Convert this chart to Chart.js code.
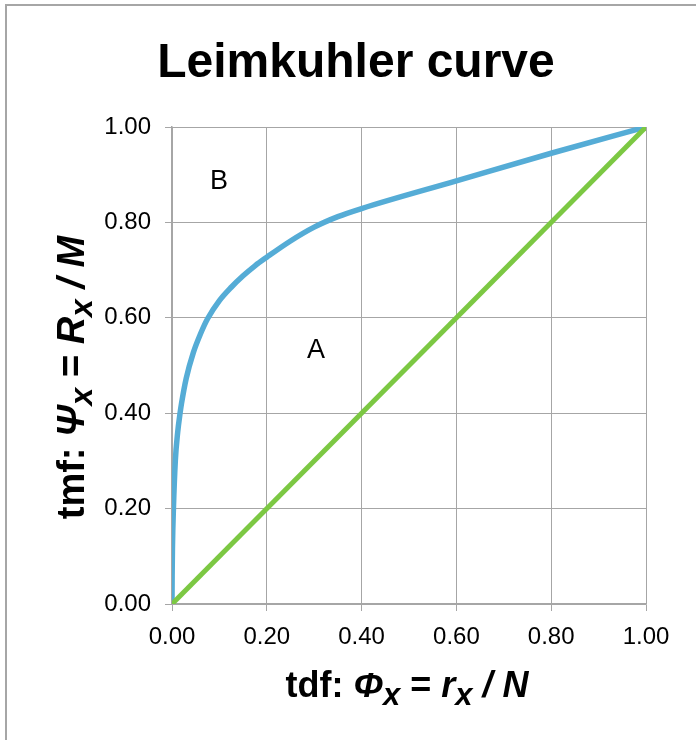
<!DOCTYPE html>
<html>
<head>
<meta charset="utf-8">
<script src="https://cdn.jsdelivr.net/npm/chart.js@4.4.1/dist/chart.umd.min.js"></script>
<style>
    html, body { margin: 0; padding: 0; background: #ffffff; overflow: hidden; }
    #wrap { position: relative; width: 696px; height: 740px; }
    #frame { position: absolute; left: 5px; top: 4px; width: 900px; height: 900px; border: 2px solid #a6a6a6; }
    #leimkuhler { position: absolute; left: 0; top: 0; }
</style>
</head>
<body>
<div id="wrap">
    <div id="frame"></div>
    <canvas id="leimkuhler" width="696" height="740"></canvas>
</div>
<script>
// Leimkuhler curve: tdf (x) against tmf (y)
const tdf = [0, 0.0003, 0.001, 0.003, 0.007, 0.012, 0.017, 0.02, 0.03, 0.045, 0.06, 0.075, 0.1, 0.125, 0.15, 0.175, 0.2, 0.25, 0.3, 0.35, 0.4, 0.6, 0.8, 1.0];
const tmf = [0, 0.06, 0.12, 0.2, 0.3, 0.36, 0.4, 0.42, 0.473, 0.527, 0.566, 0.598, 0.636, 0.664, 0.688, 0.709, 0.727, 0.761, 0.79, 0.812, 0.829, 0.887, 0.945, 1.0];

// diagonal of perfect equality
const diagX = [0, 1];
const diagY = [0, 1];

// axis ticks
const axisMin = 0;
const axisMax = 1;
const axisStep = 0.2;

// region labels inside the plot
const areaLabels = ['A', 'B'];
const areaLabelX = [0.304, 0.099];
const areaLabelY = [0.532, 0.885];

const colors = {
    curve: '#55acd6',
    diagonal: '#7cc843',
    grid: '#a6a6a6',
    text: '#000000'
};

const fontFamily = '"Liberation Sans", Arial, Helvetica, sans-serif';

const xTitleRuns = [
    { t: 'tdf: ', i: false },
    { t: 'Φ', i: true },
    { t: 'x', i: true, sub: true },
    { t: ' = ', i: false },
    { t: 'r', i: true },
    { t: 'x', i: true, sub: true },
    { t: ' / N', i: true }
];
const yTitleRuns = [
    { t: 'tmf: ', i: false },
    { t: 'Ψ', i: true },
    { t: 'x', i: true, sub: true },
    { t: ' = ', i: false },
    { t: 'R', i: true },
    { t: 'x', i: true, sub: true },
    { t: ' / M', i: true }
];

function runFont(run, size) {
    const s = run.sub ? Math.round(size * 0.85) : size;
    return (run.i ? 'italic ' : '') + 'bold ' + s + 'px ' + fontFamily;
}

// draws a mixed-style title centred on (cx, baseline)
function drawRuns(ctx, runs, size, cx, baseline) {
    let total = 0;
    runs.forEach(r => {
        ctx.font = runFont(r, size);
        r.w = ctx.measureText(r.t).width;
        total += r.w;
    });
    let x = cx - total / 2;
    ctx.textAlign = 'left';
    ctx.textBaseline = 'alphabetic';
    ctx.fillStyle = colors.text;
    runs.forEach(r => {
        ctx.font = runFont(r, size);
        ctx.fillText(r.t, x, baseline + (r.sub ? 8 : 0));
        x += r.w;
    });
}

const extras = {
    id: 'extras',
    afterDraw(chart) {
        const ctx = chart.ctx;
        const area = chart.chartArea;
        const xs = chart.scales.x;
        const ys = chart.scales.y;
        ctx.save();

        // region labels
        ctx.font = '27px ' + fontFamily;
        ctx.fillStyle = colors.text;
        ctx.textAlign = 'center';
        ctx.textBaseline = 'middle';
        areaLabels.forEach((lab, k) => {
            ctx.fillText(lab, xs.getPixelForValue(areaLabelX[k]), ys.getPixelForValue(areaLabelY[k]));
        });

        // x axis title
        drawRuns(ctx, xTitleRuns, 36, (area.left + area.right) / 2 - 2, 697);

        // y axis title (rotated)
        ctx.translate(84, (area.top + area.bottom) / 2 + 12);
        ctx.rotate(-Math.PI / 2);
        drawRuns(ctx, yTitleRuns, 38, 0, 0);

        ctx.restore();
    }
};

function renderLeimkuhlerChart() {
    const ctx = document.getElementById('leimkuhler');
    if (!ctx) return;

    const data = {
        datasets: [{
            label: 'Diagonal',
            data: diagX.map((v, k) => ({ x: v, y: diagY[k] })),
            borderColor: colors.diagonal,
            borderWidth: 5,
            pointRadius: 0,
            order: 0
        }, {
            label: 'Leimkuhler',
            data: tdf.map((v, k) => ({ x: v, y: tmf[k] })),
            borderColor: colors.curve,
            borderWidth: 5.5,
            pointRadius: 0,
            cubicInterpolationMode: 'monotone',
            order: 1
        }]
    };

    const tickFont = { family: fontFamily, size: 24 };

    new Chart(ctx.getContext('2d'), {
        type: 'line',
        data: data,
        options: {
            responsive: false,
            animation: false,
            events: [],
            layout: {
                padding: { left: 66, right: 50, top: 0, bottom: 0 }
            },
            plugins: {
                legend: { display: false },
                tooltip: { enabled: false },
                title: {
                    display: true,
                    text: 'Leimkuhler curve',
                    color: colors.text,
                    font: { family: fontFamily, size: 48, weight: 'bold', lineHeight: 1.2 },
                    padding: { top: 35, bottom: 34.4 }
                }
            },
            scales: {
                x: {
                    type: 'linear',
                    min: axisMin,
                    max: axisMax,
                    afterFit: scale => { scale.height = 136; },
                    ticks: {
                        stepSize: axisStep,
                        color: colors.text,
                        font: tickFont,
                        padding: 12,
                        maxRotation: 0,
                        callback: v => v.toFixed(2)
                    },
                    grid: { color: colors.grid, lineWidth: 1, tickLength: 7 },
                    border: { color: colors.grid, width: 1.5 }
                },
                y: {
                    type: 'linear',
                    min: axisMin,
                    max: axisMax,
                    afterFit: scale => { scale.width = 106; },
                    ticks: {
                        stepSize: axisStep,
                        color: colors.text,
                        font: tickFont,
                        padding: 14,
                        callback: v => v.toFixed(2)
                    },
                    grid: { color: colors.grid, lineWidth: 1, tickLength: 7 },
                    border: { color: colors.grid, width: 1.5 }
                }
            }
        },
        plugins: [extras]
    });
}

document.addEventListener('DOMContentLoaded', function() {
    try {
        renderLeimkuhlerChart();
    } catch (error) {
        console.error('Error rendering Leimkuhler chart:', error);
    }
});
</script>
</body>
</html>
